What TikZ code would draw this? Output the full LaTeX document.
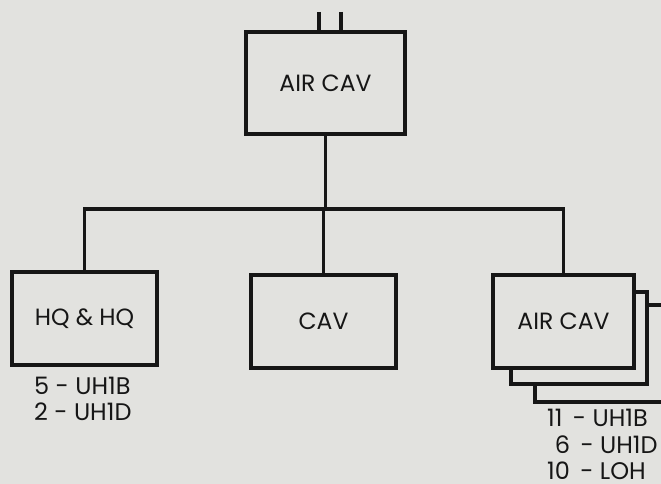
\documentclass[tikz,border=0pt]{standalone}
\usepackage{fontspec}
\setmainfont{Poppins}
\usetikzlibrary{arrows}
\usetikzlibrary{calc}
\definecolor{paper}{RGB}{226,226,223}
\definecolor{ink}{RGB}{22,22,22}
\tikzset{
	unit/.style={draw=ink,line width=3.5pt,fill=paper,minimum width=145pt,minimum height=93pt,inner sep=0pt,font=\fontsize{23.5}{27}\selectfont,text=ink},
	wire/.style={draw=ink,line width=3.5pt},
	strength/.style={inner sep=0pt,align=left,font=\fontsize{24}{26.5}\selectfont,text=ink}
}
\begin{document}
\begin{tikzpicture}[x=1pt,y=-1pt]
	\fill[paper] (0,0) rectangle (661,484);
	\useasboundingbox (0,0) rectangle (661,484);
	\node[unit,minimum width=159pt,minimum height=102pt] (squadron) at (325.5,83) {AIR CAV};
	\node[unit] (hq) at (84.5,318.5) {HQ \& HQ};
	\node[unit] (cav) at (323.5,321.5) {CAV};
	\draw[wire,fill=paper] (535,305) rectangle (664,402);
	\draw[wire,fill=paper] (511,292) rectangle (647,384);
	\node[unit,minimum width=141pt] (troop) at (563.5,321.5) {AIR CAV};
	\coordinate (bus) at (325.5,209);
	\coordinate (feedl) at (319,12);
	\coordinate (feedr) at (341,12);
	\draw[wire] (feedl) -- (feedl |- squadron.north);
	\draw[wire] (feedr) -- (feedr |- squadron.north);
	\draw[wire] (squadron.south) -- (bus);
	\draw[wire] (hq.north) |- (bus) -| (troop.north);
	\draw[wire] (cav.north) -- (cav.north |- bus);
	\node[strength,anchor=south west] (hqair) at (34,421) {5 - UH1B\\2 - UH1D};
	\node[strength,anchor=south west] (troopair) at (547,480) {11 \,- UH1B\\\hphantom{1}6 \,- UH1D\\10 \,- LOH};
\end{tikzpicture}
\end{document}
